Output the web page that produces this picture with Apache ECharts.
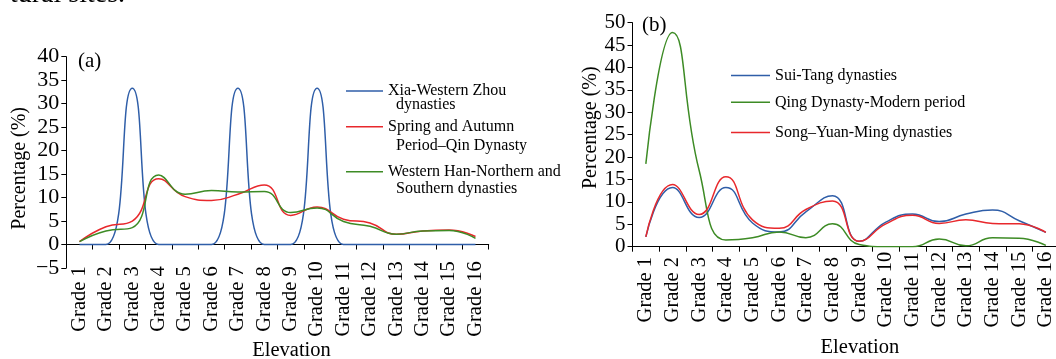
<!DOCTYPE html>
<html>
<head>
<meta charset="utf-8">
<script src="https://cdn.jsdelivr.net/npm/echarts@6/dist/echarts.min.js"></script>
<style>
html,body{margin:0;padding:0;background:#fff;}
#c{width:1056px;height:359px;}
</style>
</head>
<body>
<div id="c"></div>
<script>
// ---- data ----
const grades = ['Grade 1','Grade 2','Grade 3','Grade 4','Grade 5','Grade 6','Grade 7','Grade 8',
  'Grade 9','Grade 10','Grade 11','Grade 12','Grade 13','Grade 14','Grade 15','Grade 16'];
// panel (a)
const xiaWesternZhou = [0, 0, 33.3, 0, 0, 0, 33.3, 0, 0, 33.3, 0, 0, 0, 0, 0, 0];
const springAutumnQin = [0.6, 3.8, 5.0, 14.0, 10.2, 9.4, 10.7, 12.7, 6.2, 8.0, 5.4, 4.6, 2.2, 2.9, 3.1, 1.7];
const westernHanNS = [0.6, 2.9, 3.6, 14.8, 10.7, 11.5, 11.2, 11.3, 6.8, 7.8, 4.9, 3.9, 2.2, 2.9, 3.0, 1.3];
// panel (b)
const suiTang = [2.2, 13.2, 6.5, 13.2, 5.3, 3.3, 7.8, 11.4, 1.2, 5.5, 7.3, 5.6, 7.3, 8.2, 5.8, 3.2];
const qingModern = [18.5, 47.8, 17.0, 1.5, 2.0, 3.3, 2.0, 5.1, 0.5, 0, 0, 1.7, 0.2, 2.0, 1.9, 0.3];
const songYuanMing = [2.2, 13.9, 7.2, 15.6, 6.0, 4.1, 8.3, 10.2, 1.2, 5.1, 7.0, 5.2, 6.0, 5.2, 5.1, 3.2];

const names = {
  a1: 'Xia-Western Zhou dynasties',
  a2: 'Spring and Autumn Period–Qin Dynasty',
  a3: 'Western Han-Northern and Southern dynasties',
  b1: 'Sui-Tang dynasties',
  b2: 'Qing Dynasty-Modern period',
  b3: 'Song–Yuan-Ming dynasties'
};
const legendText = {};
legendText[names.a1] = ' \nXia-Western Zhou\n  dynasties';
legendText[names.a2] = ' \nSpring and Autumn\n  Period–Qin Dynasty';
legendText[names.a3] = ' \nWestern Han-Northern and\n  Southern dynasties';

const BLUE = '#2f5ea8', RED = '#e8282c', GREEN = '#3d8b25';
const FONT = '"Liberation Serif", "Times New Roman", serif';

const chart = echarts.init(document.getElementById('c'), null, {renderer: 'canvas'});

function yAxisCfg(grid, min, max, labelSize, nameGap, namePad) {
  return {
    type: 'value', gridIndex: grid, min: min, max: max, interval: 5,
    name: 'Percentage (%)', nameLocation: 'middle', nameGap: nameGap,
    nameMoveOverlap: false,
    nameTextStyle: {fontFamily: FONT, fontSize: 20, color: '#000', padding: namePad},
    axisLine: {show: true, lineStyle: {color: '#000', width: 1}},
    axisTick: {show: true, length: 5, lineStyle: {color: '#000'}},
    splitLine: {show: false},
    axisLabel: {fontFamily: FONT, fontSize: labelSize, color: '#000', margin: 7,
      showMinLabel: true, showMaxLabel: true, hideOverlap: false,
      formatter: v => String(v).replace('-', '\u2212')}
  };
}
function xAxisCfg(grid, margin, name, nameGap) {
  return {
    type: 'category', gridIndex: grid, data: grades, boundaryGap: true, position: 'bottom',
    name: name, nameLocation: 'middle', nameGap: nameGap,
    nameMoveOverlap: false,
    nameTextStyle: {fontFamily: FONT, fontSize: 20.5, color: '#000', padding: [0, 0, 0, 28]},
    axisLine: {show: true, onZero: true, lineStyle: {color: '#000', width: 1}},
    axisTick: {show: true, length: 5, lineStyle: {color: '#000'}},
    splitLine: {show: false},
    axisLabel: {fontFamily: FONT, fontSize: 20.5, color: '#000', rotate: 90, align: 'center',
      margin: margin, interval: 0, hideOverlap: false}
  };
}
// bottom-anchored helper axis that only carries the "Elevation" title of panel (a)
function nameAxisCfg(grid, nameGap) {
  return {
    type: 'category', gridIndex: grid, data: grades, position: 'bottom',
    name: 'Elevation', nameLocation: 'middle', nameGap: nameGap,
    nameMoveOverlap: false,
    nameTextStyle: {fontFamily: FONT, fontSize: 20.5, color: '#000', padding: [0, 0, 0, 28]},
    axisLine: {show: false, onZero: false},
    axisTick: {show: false}, axisLabel: {show: false}, splitLine: {show: false}
  };
}
function lineSeries(name, data, color, idx) {
  return {
    name: name, type: 'line', data: data, xAxisIndex: idx, yAxisIndex: idx,
    smooth: true, smoothConstraint: false, symbol: 'none', color: color,
    lineStyle: {color: color, width: 1.5}, animation: false
  };
}
function legendA(name, top, lh) {
  return {
    data: [name], left: 346, top: top, padding: 0, orient: 'vertical',
    icon: 'rect', itemWidth: 37, itemHeight: 1.5, selectedMode: false,
    formatter: n => legendText[n],
    textStyle: {fontFamily: FONT, fontSize: 16, color: '#000', lineHeight: lh}
  };
}
function legendB(name, top) {
  return {
    data: [name], left: 731, top: top, padding: 0, orient: 'vertical',
    icon: 'rect', itemWidth: 39, itemHeight: 1.5, selectedMode: false,
    textStyle: {fontFamily: FONT, fontSize: 16, color: '#000', lineHeight: 20}
  };
}

const option = {
  backgroundColor: '#fff',
  animation: false,
  title: [
    {text: '(a)', left: 78, top: 51, padding: 0,
      textStyle: {fontFamily: FONT, fontSize: 21, fontWeight: 'normal', color: '#000'}},
    {text: '(b)', left: 642, top: 15, padding: 0,
      textStyle: {fontFamily: FONT, fontSize: 21, fontWeight: 'normal', color: '#000'}}
  ],
  graphic: [
    {type: 'text', x: 10, y: -19, z: 100,
      style: {text: 'tural sites.', fontFamily: FONT, fontSize: 28, fill: '#000',
        verticalAlign: 'top', align: 'left'}}
  ],
  grid: [
    {left: 66.3, top: 56.7, width: 422.4, height: 211.3, containLabel: false, outerBoundsMode: 'none'},
    {left: 632.5, top: 22.7, width: 426.7, height: 224, containLabel: false, outerBoundsMode: 'none'}
  ],
  xAxis: [xAxisCfg(0, 31, '', 0), xAxisCfg(1, 43, 'Elevation', 90), nameAxisCfg(0, 72)],
  yAxis: [yAxisCfg(0, -5, 40, 22, 37, [0, 12, 0, 0]), yAxisCfg(1, 0, 50, 21, 32, [0, 0, 0, 14])],
  legend: [
    legendA(names.a1, 90 - 21, 14),
    legendA(names.a2, 126.7 - 28, 18.7),
    legendA(names.a3, 171.7 - 26, 17.3),
    legendB(names.b1, 75.5 - 10),
    legendB(names.b2, 102.3 - 10),
    legendB(names.b3, 132.5 - 10)
  ],
  series: [
    lineSeries(names.a1, xiaWesternZhou, BLUE, 0),
    lineSeries(names.a2, springAutumnQin, RED, 0),
    lineSeries(names.a3, westernHanNS, GREEN, 0),
    lineSeries(names.b1, suiTang, BLUE, 1),
    lineSeries(names.b2, qingModern, GREEN, 1),
    lineSeries(names.b3, songYuanMing, RED, 1)
  ]
};
chart.setOption(option);
</script>
</body>
</html>
